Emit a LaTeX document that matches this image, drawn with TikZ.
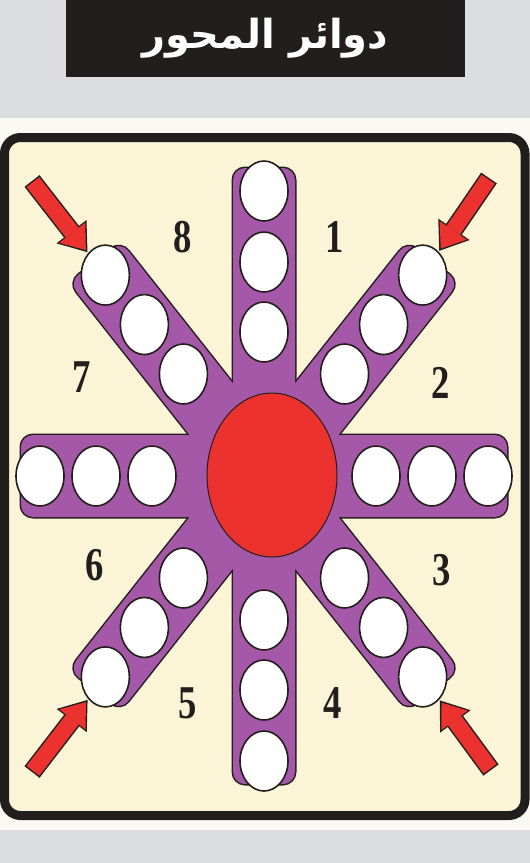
\documentclass[tikz,border=0pt]{standalone}
\usepackage{fontspec}
\usepackage{tikz}
\usetikzlibrary{arrows.meta,shapes.geometric}
\TeXXeTstate=1
\newfontfamily\arabicfont[Script=Arabic]{DejaVu Sans}
\newfontfamily\numfont[FakeStretch=0.78]{Liberation Serif}
\definecolor{pagegray}{RGB}{220,221,224}
\definecolor{paper}{RGB}{250,249,244}
\definecolor{boardcream}{RGB}{251,244,214}
\definecolor{armpurple}{RGB}{166,88,168}
\definecolor{hubred}{RGB}{236,50,46}
\definecolor{inkdark}{RGB}{35,30,30}

\begin{document}
\begin{tikzpicture}[
  x=1pt,y=-1pt,
  hole/.style={ellipse,draw=inkdark,line width=1.6pt,fill=white,inner sep=0pt,
    minimum width=48pt,minimum height=60pt},
  sector/.style={font=\numfont\bfseries\fontsize{47}{47}\selectfont,text=inkdark,inner sep=0pt},
  bar/.style={draw=inkdark,line width=3pt,fill=armpurple,rounded corners=12pt},
  barfill/.style={fill=armpurple,rounded corners=12pt},
  pointer/.style={-{Triangle[length=26pt,width=38pt,line width=0pt]},
    line width=19pt,draw=inkdark,shorten >=1pt},
  pointerfill/.style={-{Triangle[length=22pt,width=33pt,line width=0pt]},
    line width=16pt,draw=hubred,shorten >=3.7pt,shorten <=1.5pt}
]
\fill[pagegray] (0,0) rectangle (530,863);
\fill[paper] (0,118) rectangle (530,830);
\draw[line width=9pt,draw=inkdark,fill=boardcream,rounded corners=16pt]
  (4.5,137.5) rectangle (525,815.5);
\useasboundingbox (0,0) rectangle (530,863);

\node[fill=inkdark,minimum width=399pt,minimum height=77pt,text=white,
  font=\arabicfont\bfseries\fontsize{40}{40}\selectfont] (title) at (265.5,38.5)
 {\beginR دوائر المحور\endR};

\coordinate (c) at (264,476);

\foreach \ang/\len/\wid in {90/308/31, 0/243/41, 51.7/273/33, -51.7/273/33}
  \draw[bar,shift={(c)},rotate=-\ang] (-\len,-\wid) rectangle (\len,\wid);
\foreach \ang/\len/\wid in {90/308/31, 0/243/41, 51.7/273/33, -51.7/273/33}
  \fill[barfill,shift={(c)},rotate=-\ang] (-\len,-\wid) rectangle (\len,\wid);

\node[ellipse,draw=inkdark,line width=1pt,fill=hubred,minimum width=130pt,
  minimum height=164pt] (hub) at (272,475) {};

\foreach \ang/\arm/\ds in {270/N/{144,214,285}, 90/S/{144,214,285},
    0/E/{112,168,224}, 180/W/{112,168,224},
    -51.7/NE/{130,193,256}, 231.7/NW/{130,193,256},
    51.7/SE/{130,193,256}, 128.3/SW/{130,193,256}}
  \foreach \d [count=\i] in \ds
    \node[hole] (\arm-\i) at ([shift={(\ang:\d)}]c) {};

\node[sector] (s1) at (335,237) {1};
\node[sector] (s2) at (441,383) {2};
\node[sector] (s3) at (442,570) {3};
\node[sector] (s4) at (333,703) {4};
\node[sector] (s5) at (188,703) {5};
\node[sector] (s6) at (95,565) {6};
\node[sector] (s7) at (82,377) {7};
\node[sector] (s8) at (183,237) {8};

\coordinate (nw-tail) at (32,181);
\coordinate (ne-tail) at (489,178);
\coordinate (sw-tail) at (32,772);
\coordinate (se-tail) at (491,770);

\foreach \from/\to in {nw-tail/NW-3, ne-tail/NE-3, sw-tail/SW-3, se-tail/SE-3}{
  \draw[pointer] (\from) -- (\to);
  \draw[pointerfill] (\from) -- (\to);
}
\end{tikzpicture}
\end{document}
